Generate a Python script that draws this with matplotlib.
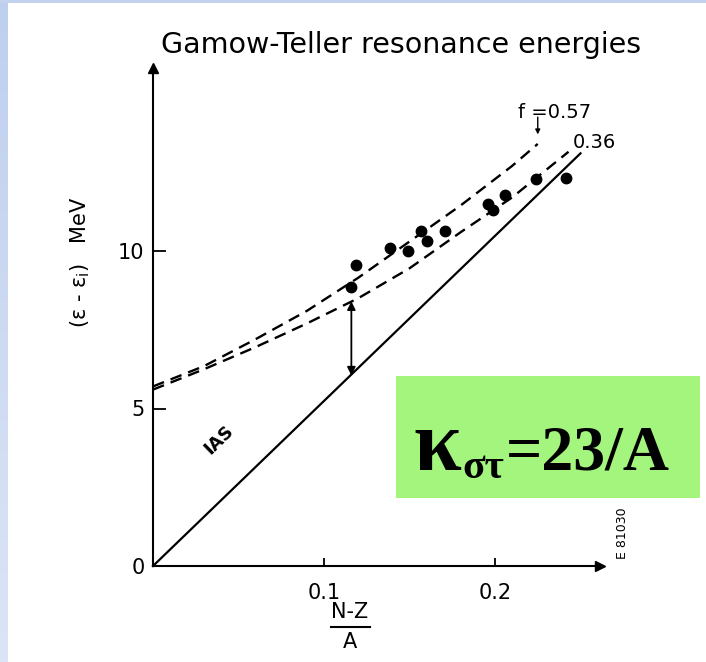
import numpy as np
import matplotlib
matplotlib.use("Agg")
import matplotlib.pyplot as plt
from matplotlib.patches import Rectangle
from matplotlib.lines import Line2D
from matplotlib.colors import LinearSegmentedColormap

# ---------------- data ----------------
ias_x = [0.0, 0.250]
ias_y = [0.0, 13.1]

f057_x = [0.0, 0.03, 0.06, 0.09, 0.12, 0.15, 0.18, 0.21, 0.225]
f057_y = [5.70, 6.35, 7.20, 8.10, 9.15, 10.30, 11.45, 12.70, 13.40]

f036_x = [0.0, 0.03, 0.06, 0.09, 0.12, 0.15, 0.18, 0.21, 0.243]
f036_y = [5.60, 6.25, 6.95, 7.70, 8.50, 9.45, 10.60, 11.70, 13.15]

exp_x = [0.1187, 0.1158, 0.1386, 0.149, 0.157, 0.160, 0.171, 0.196, 0.199, 0.206, 0.224, 0.2415]
exp_y = [9.56, 8.86, 10.09, 10.00, 10.63, 10.32, 10.63, 11.49, 11.30, 11.77, 12.28, 12.31]

gap_arrow_x = 0.116
gap_arrow_top = 8.4
gap_arrow_bottom = 6.05

f_arrow_x = 0.225
f_arrow_from = 14.25
f_arrow_to = 13.7

x_ticks = [0.1, 0.2]
x_ticklabels = ["0.1", "0.2"]
y_ticks = [0, 5, 10]
y_ticklabels = ["0", "5", "10"]

title = "Gamow-Teller resonance energies"
ylabel = r"(ε - ε$_{\rm i}$)   MeV"
label_f057 = "f =0.57"
label_f036 = "0.36"
label_ias = "IAS"
label_code = "E 81030"

# ---------------- figure ----------------
W, H = 706, 662
fig = plt.figure(figsize=(W / 100, H / 100), dpi=100)
fig.patch.set_facecolor("white")

def fx(x):
    return x / W

def fy(y):
    return 1 - y / H

# slide background strips
grad_ax = fig.add_axes([0, 0, 8 / W, 1])
grad = np.linspace(0, 1, 256).reshape(-1, 1)
cm = LinearSegmentedColormap.from_list("bg", ["#bfcfee", "#dce5f5"])
grad_ax.imshow(grad, aspect="auto", cmap=cm, extent=[0, 1, 0, 1], origin="upper")
grad_ax.set_axis_off()
fig.patches.append(Rectangle((0, fy(3)), 1, 3 / H, transform=fig.transFigure,
                             facecolor="#c3d3ef", edgecolor="none", zorder=0))

# main axes: origin at pixel (153, 566)
x0p, y0p = 153, 566
xpx_per_unit = 1710.0
ypx_per_unit = 31.5
xend_p, yend_p = 600, 68
ax = fig.add_axes([fx(x0p), fy(y0p), (xend_p - x0p) / W, (y0p - yend_p) / H])
ax.set_xlim(0, (xend_p - x0p) / xpx_per_unit)
ax.set_ylim(0, (y0p - yend_p) / ypx_per_unit)
ax.patch.set_alpha(0)
for s in ["top", "right"]:
    ax.spines[s].set_visible(False)
for s in ["left", "bottom"]:
    ax.spines[s].set_linewidth(1.5)
ax.plot(1, 0, ">k", transform=ax.transAxes, clip_on=False, markersize=7)
ax.plot(0, 1, "^k", transform=ax.transAxes, clip_on=False, markersize=7)

ax.set_xticks(x_ticks)
ax.set_xticklabels(x_ticklabels)
ax.set_yticks(y_ticks)
ax.set_yticklabels(y_ticklabels)
ax.tick_params(axis="x", direction="in", length=6, width=1.3, labelsize=15, pad=12)
ax.tick_params(axis="y", direction="in", length=9, width=1.3, labelsize=15, pad=6)

# lines
ax.plot(ias_x, ias_y, color="black", lw=1.6, clip_on=False)
ax.plot(f057_x, f057_y, color="black", lw=1.7, ls=(0, (5, 3)), clip_on=False)
ax.plot(f036_x, f036_y, color="black", lw=1.7, ls=(0, (5, 3)), clip_on=False)
ax.plot(exp_x, exp_y, "o", color="black", markersize=7.5, clip_on=False)

ax.annotate("", xy=(gap_arrow_x, gap_arrow_bottom), xytext=(gap_arrow_x, gap_arrow_top),
            arrowprops=dict(arrowstyle="<|-|>", lw=1.3, color="black",
                            mutation_scale=12, shrinkA=0, shrinkB=0))
ax.annotate("", xy=(f_arrow_x, f_arrow_to), xytext=(f_arrow_x, f_arrow_from),
            arrowprops=dict(arrowstyle="-|>", lw=1.0, color="black",
                            mutation_scale=7, shrinkA=0, shrinkB=0))

# texts
fig.text(fx(401), fy(45), title, ha="center", va="center", fontsize=20.5)
fig.text(fx(80), fy(262), ylabel, ha="center", va="center", rotation=90, fontsize=15)
fig.text(fx(350), fy(612), "N-Z", ha="center", va="center", fontsize=15)
fig.text(fx(350), fy(642), "A", ha="center", va="center", fontsize=15)
fig.lines.append(Line2D([fx(331), fx(370)], [fy(627), fy(627)], transform=fig.transFigure,
                        color="black", lw=1.5))
fig.text(fx(555), fy(113), label_f057, ha="center", va="center", fontsize=14)
fig.text(fx(594), fy(143), label_f036, ha="center", va="center", fontsize=14)
fig.text(fx(219), fy(440), label_ias, ha="center", va="center", rotation=44,
         fontsize=13, fontweight="bold")
fig.text(fx(622), fy(533), label_code, ha="center", va="center", rotation=90, fontsize=9)

# green box with kappa
fig.patches.append(Rectangle((fx(396), fy(498)), (700 - 396) / W, (498 - 376) / H,
                             transform=fig.transFigure, facecolor="#a4f57e",
                             edgecolor="none", zorder=1))
serif = "Liberation Serif"
fig.text(fx(413), fy(470), "κ", ha="left", va="baseline", fontsize=62,
         fontweight="bold", family=serif, zorder=3)
fig.text(fx(462), fy(478), "στ", ha="left", va="baseline", fontsize=30,
         fontweight="bold", family=serif, zorder=3)
fig.text(fx(506), fy(470), "=23/A", ha="left", va="baseline", fontsize=46,
         fontweight="bold", family=serif, zorder=3)

fig.savefig("out.png", dpi=100)
